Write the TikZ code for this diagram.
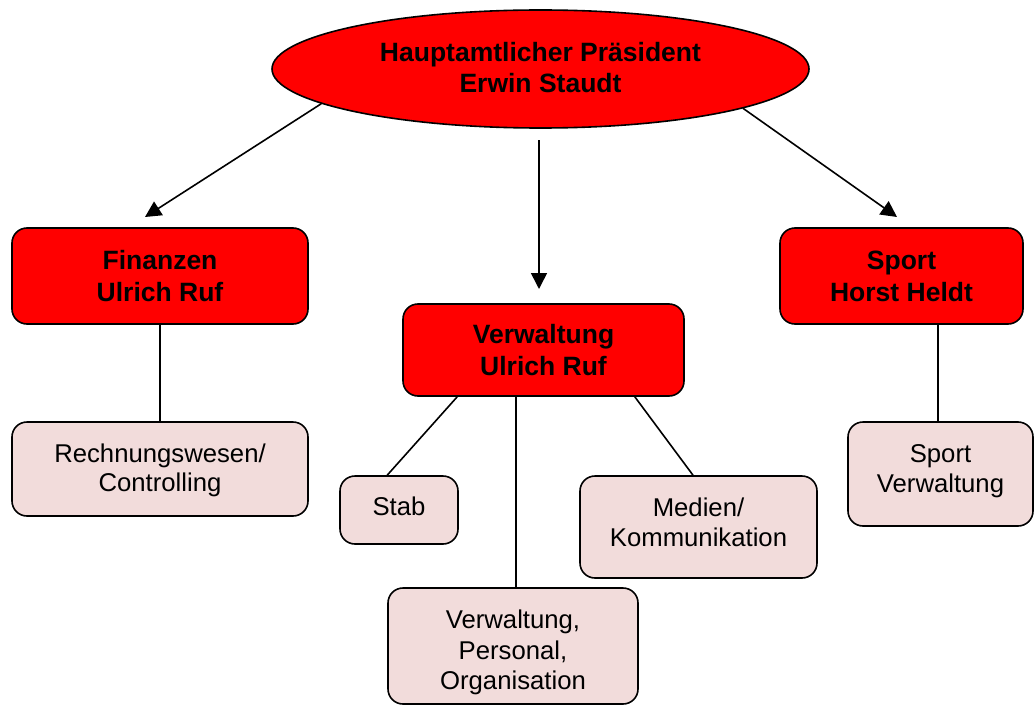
\documentclass[tikz,border=0pt]{standalone}
\usepackage{fontspec}
\setmainfont{Liberation Sans}
\usetikzlibrary{shapes.geometric,arrows.meta}
\definecolor{boxred}{HTML}{FF0000}
\definecolor{boxpink}{HTML}{F2DCDB}
% pad the text box on top (text moves down by half) or bottom (text moves up by half)
\newcommand\padtop[2]{\raisebox{0pt}[\dimexpr\height+#1\relax][\depth]{#2}}
\newcommand\padbot[2]{\raisebox{0pt}[\height][\dimexpr\depth+#1\relax]{#2}}
\newcommand\lines[1]{\begin{tabular}{@{}c@{}}#1\end{tabular}}
\begin{document}
\begin{tikzpicture}[x=1pt,y=-1pt,
  redbox/.style={draw=black, line width=1.6pt, fill=boxred, rounded corners=15pt,
    font=\fontsize{26.5}{32}\selectfont\bfseries, align=center, inner sep=0pt},
  pinkbox/.style={draw=black, line width=1.6pt, fill=boxpink, rounded corners=15pt,
    font=\fontsize{25.7}{31}\selectfont, align=center, inner sep=0pt},
  conn/.style={draw=black, line width=1.6pt},
  arr/.style={conn, -{Triangle[length=16pt,width=16pt]}}]
\useasboundingbox (0,0) rectangle (1035,706);
\node[ellipse, draw=black, line width=1.6pt, fill=boxred, minimum width=537pt, minimum height=118pt,
  font=\fontsize{26.5}{31.5}\selectfont\bfseries, align=center, inner sep=0pt]
  (pres) at (540.5,69) {\padtop{4pt}{\lines{Hauptamtlicher Präsident\\[-0.5pt]Erwin Staudt}}};
\node[redbox, minimum width=296pt, minimum height=96pt] (fin) at (160,276) {Finanzen\\Ulrich Ruf};
\node[redbox, minimum width=281pt, minimum height=92pt] (verw) at (543.5,350) {Verwaltung\\Ulrich Ruf};
\node[redbox, minimum width=243pt, minimum height=96pt] (sport) at (901.5,276) {Sport\\Horst Heldt};
\node[pinkbox, minimum width=296pt, minimum height=94pt] (rw) at (160,469)
  {\padtop{3pt}{\lines{Rechnungswesen/\\[-2pt]Controlling}}};
\node[pinkbox, minimum width=118pt, minimum height=68pt] (stab) at (399,510)
  {\padbot{8pt}{Stab}};
\node[pinkbox, minimum width=237pt, minimum height=102pt] (med) at (698.5,527)
  {\padbot{3pt}{\lines{Medien/\\[-1pt]Kommunikation}}};
\node[pinkbox, minimum width=250pt, minimum height=116pt] (org) at (513,646)
  {\padtop{14pt}{\lines{Verwaltung,\\[-0.5pt]Personal,\\[-0.5pt]Organisation}}};
\node[pinkbox, minimum width=185pt, minimum height=104pt] (spv) at (940.5,474)
  {\padbot{6pt}{\lines{Sport\\[-1pt]Verwaltung}}};
\coordinate (t1) at (145,217);
\coordinate (s2) at (539,140);
\coordinate (t2) at (539,289);
\coordinate (t3) at (897,217);
\draw[arr] (pres.189.5) -- (t1);
\draw[arr] (s2) -- (t2);
\draw[arr] (pres.349) -- (t3);
\draw[conn] (fin.south) -- (rw.north);
\draw[conn] ([xshift=-2.5pt]spv.north |- sport.south) -- ([xshift=-2.5pt]spv.north);
\draw[conn] ([xshift=55pt]verw.south west) -- ([xshift=48pt]stab.north west);
\draw[conn] ([xshift=3pt]org.north |- verw.south) -- ([xshift=3pt]org.north);
\draw[conn] ([xshift=-50pt]verw.south east) -- ([xshift=-5.5pt]med.north);
\end{tikzpicture}
\end{document}
